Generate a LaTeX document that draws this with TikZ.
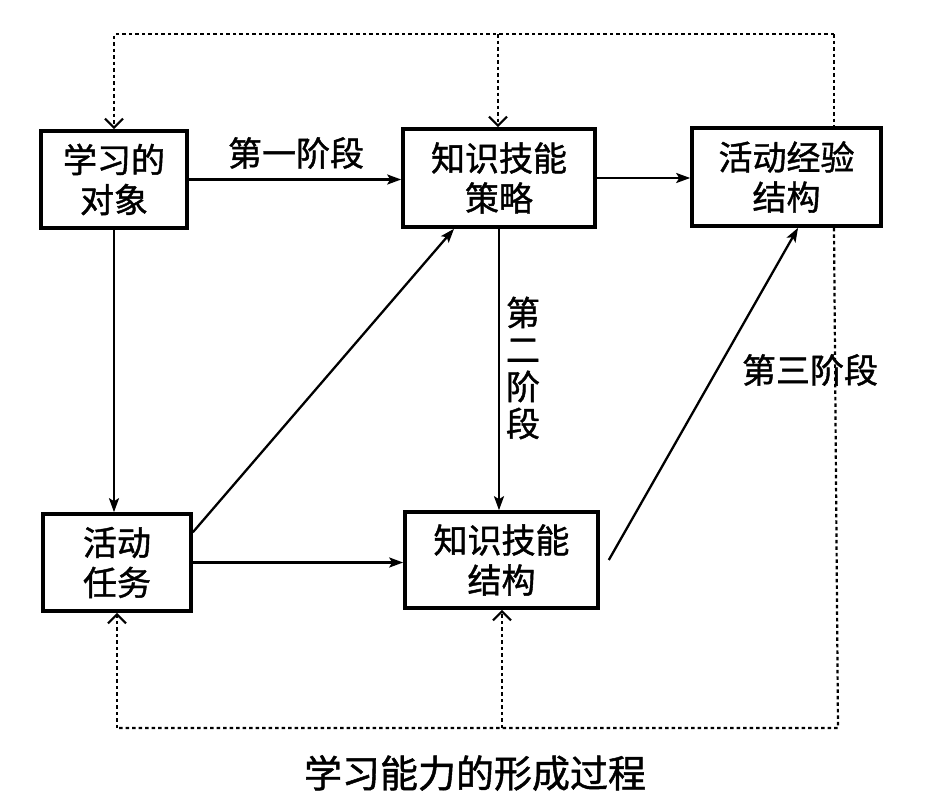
\documentclass[tikz,border=0pt]{standalone}
\usepackage{fontspec}
\newfontfamily\cjk[FakeBold=1.2]{Noto Sans CJK SC}
\usetikzlibrary{arrows.meta,calc}
\begin{document}
\begin{tikzpicture}[x=1pt,y=-1pt,
  box/.style={draw,line width=3.6pt,fill=white,inner sep=0pt,align=center,
    font=\cjk\fontsize{34}{40}\selectfont},
  conn/.style={line width=2.3pt,-{Stealth[length=14pt,width=10pt,inset=3pt]}},
  dotline/.style={line width=2.2pt,dash pattern=on 3.5pt off 3pt},
  dotarrow/.style={dotline,-{Straight Barb[length=9pt,width=18pt,line width=2.2pt]}},
  lbl/.style={inner sep=0pt,align=center,font=\cjk\fontsize{34}{37}\selectfont}]
\useasboundingbox (0,0) rectangle (938,806);
% boxes
\node[box,minimum width=146pt,minimum height=97pt] (A) at (114,179.5) {学习的\\对象};
\node[box,minimum width=192pt,minimum height=98pt] (B) at (499,178) {知识技能\\策略};
\node[box,minimum width=189pt,minimum height=98pt] (C) at (786.5,177) {活动经验\\结构};
\node[box,minimum width=148pt,minimum height=97pt] (D) at (117,562.5) {活动\\任务};
\node[box,minimum width=193pt,minimum height=96pt] (E) at (501.5,560) {知识技能\\结构};
% dotted frame coordinates
\coordinate (tl) at (114,34);
\coordinate (tm) at (498,34);
\coordinate (tr) at (834,34);
\coordinate (bl) at (117,728);
\coordinate (bm) at (502,728);
\coordinate (br) at (838,728);
% dotted connectors
\draw[dotarrow] (tr) -- (tl) -- (A.north);
\draw[dotarrow] (tm) -- (tm |- B.north);
\draw[dotline] (tr) -- (tr |- C.north);
\draw[dotline] (tr |- C.south) -- (br) -- (bl);
\draw[dotarrow] (bl) -- (D.south);
\draw[dotarrow] (bm) -- (bm |- E.south);
% solid connectors
\draw[conn] (A.east) -- (A.east -| B.west);
\draw[conn] (B.east) -- (B.east -| C.west);
\draw[conn] (A.south) -- (A.south |- D.north);
\draw[conn] (B.south) -- (B.south |- E.north);
\draw[conn] (D.east) -- (D.east -| E.west);
\draw[conn] ($(D.north east)!0.2!(D.south east)$) -- ($(B.south west)!0.27!(B.south east)$);
\draw[conn] ([xshift=9pt]E.east) -- ($(C.south west)!0.56!(C.south east)$);
% labels
\node[lbl] (l1) at (296,153) {第一阶段};
\node[lbl] (l2) at (523,368) {第\\二\\阶\\段};
\node[lbl] (l3) at (810,370) {第三阶段};
\node[inner sep=0pt,font=\cjk\fontsize{38}{40}\selectfont] (cap) at (475,773) {学习能力的形成过程};
\end{tikzpicture}
\end{document}
